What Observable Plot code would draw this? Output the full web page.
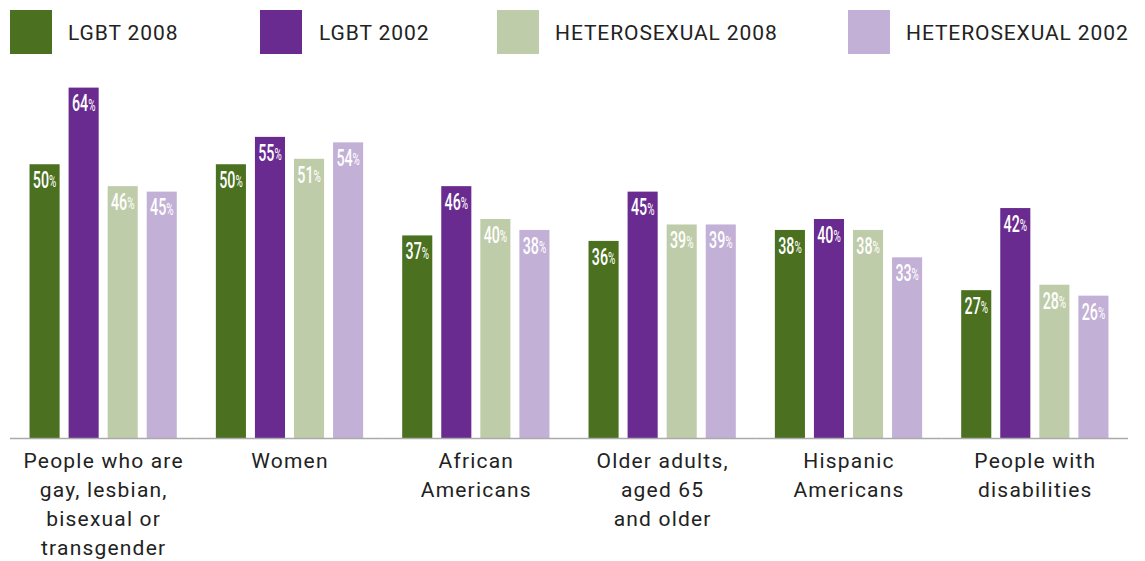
<!DOCTYPE html>
<html>
<head>
<meta charset="utf-8">
<script src="https://cdn.jsdelivr.net/npm/d3@7"></script>
<script src="https://cdn.jsdelivr.net/npm/@observablehq/plot@0.6"></script>
<style>
  html, body { margin: 0; padding: 0; background: #fff; }
  #wrap { position: relative; width: 1145px; height: 561px; }
  #legend { position: absolute; left: 0; top: 0; width: 1145px; height: 60px; font-family: Roboto, sans-serif; font-size: 21px; color: #222; letter-spacing: 0.9px; }
  .sw { position: absolute; top: 10px; width: 42px; height: 44px; }
  .lb { position: absolute; top: 21px; line-height: 24px; white-space: nowrap; }
  #chart { position: absolute; left: 0; top: 0; }
  .fxaxis text { letter-spacing: 1.2px; }
</style>
</head>
<body>
<div id="wrap">
  <div id="chart"></div>
  <div id="legend"></div>
</div>
<script>
const categories = [
  "People who are\ngay, lesbian,\nbisexual or\ntransgender",
  "Women",
  "African\nAmericans",
  "Older adults,\naged 65\nand older",
  "Hispanic\nAmericans",
  "People with\ndisabilities"
];
const series = ["LGBT 2008", "LGBT 2002", "HETEROSEXUAL 2008", "HETEROSEXUAL 2002"];
const lgbt2008 = [50, 50, 37, 36, 38, 27];
const lgbt2002 = [64, 55, 46, 45, 40, 42];
const hetero2008 = [46, 51, 40, 39, 38, 28];
const hetero2002 = [45, 54, 38, 39, 33, 26];
const colors = ["#4a7020", "#692b8f", "#bfcca9", "#c3b0d6"];

const seriesValues = [lgbt2008, lgbt2002, hetero2008, hetero2002];
const data = [];
categories.forEach((c, i) => {
  series.forEach((s, j) => {
    data.push({category: c, series: s, value: seriesValues[j][i]});
  });
});

const chart = Plot.plot({
  width: 1145,
  height: 561,
  marginTop: 0,
  marginBottom: 123,
  marginLeft: 10,
  marginRight: 17,
  style: {fontFamily: "Roboto, sans-serif", background: "transparent"},
  fx: {domain: categories, padding: 0, label: null, round: false},
  x: {domain: series, paddingInner: 0.23, paddingOuter: 0.5, axis: null, round: false},
  y: {domain: [0, 80], axis: null},
  color: {domain: series, range: colors},
  marks: [
    Plot.barY(data, {fx: "category", x: "series", y: "value", fill: "series"}),
    Plot.ruleY([0], {stroke: "#aaaaaa", strokeWidth: 1.5}),
    Plot.text(data, {
      fx: "category", x: "series", y: "value",
      text: d => String(d.value),
      textAnchor: "end", dx: 4, dy: 16,
      fill: "white", fontSize: 23, fontWeight: 500,
      fontFamily: "Roboto, sans-serif", className: "num"
    }),
    Plot.text(data, {
      fx: "category", x: "series", y: "value",
      text: () => "%",
      textAnchor: "start", dx: 4, dy: 17.5,
      fill: "white", fontSize: 16, fontWeight: "normal",
      fontFamily: "Roboto, sans-serif", className: "num"
    }),
    Plot.axisFx({
      anchor: "bottom", tickSize: 0, tickPadding: 9, label: null,
      fontSize: 21, lineHeight: 1.38, fill: "#222222", className: "fxaxis"
    })
  ]
});
// condensed look for the value labels
d3.select(chart).selectAll(".num text").each(function() {
  const t = this.getAttribute("transform") || "";
  this.setAttribute("transform", t + " scale(0.62,1)");
});
document.getElementById("chart").appendChild(chart);

// legend
const legend = document.getElementById("legend");
const swatchLeft = [10, 260, 497, 848];
const labelLeft = [68, 319, 555, 906];
series.forEach((s, i) => {
  const sw = document.createElement("div");
  sw.className = "sw";
  sw.style.left = swatchLeft[i] + "px";
  sw.style.background = colors[i];
  legend.appendChild(sw);
  const lb = document.createElement("div");
  lb.className = "lb";
  lb.style.left = labelLeft[i] + "px";
  lb.textContent = s;
  legend.appendChild(lb);
});
</script>
</body>
</html>
